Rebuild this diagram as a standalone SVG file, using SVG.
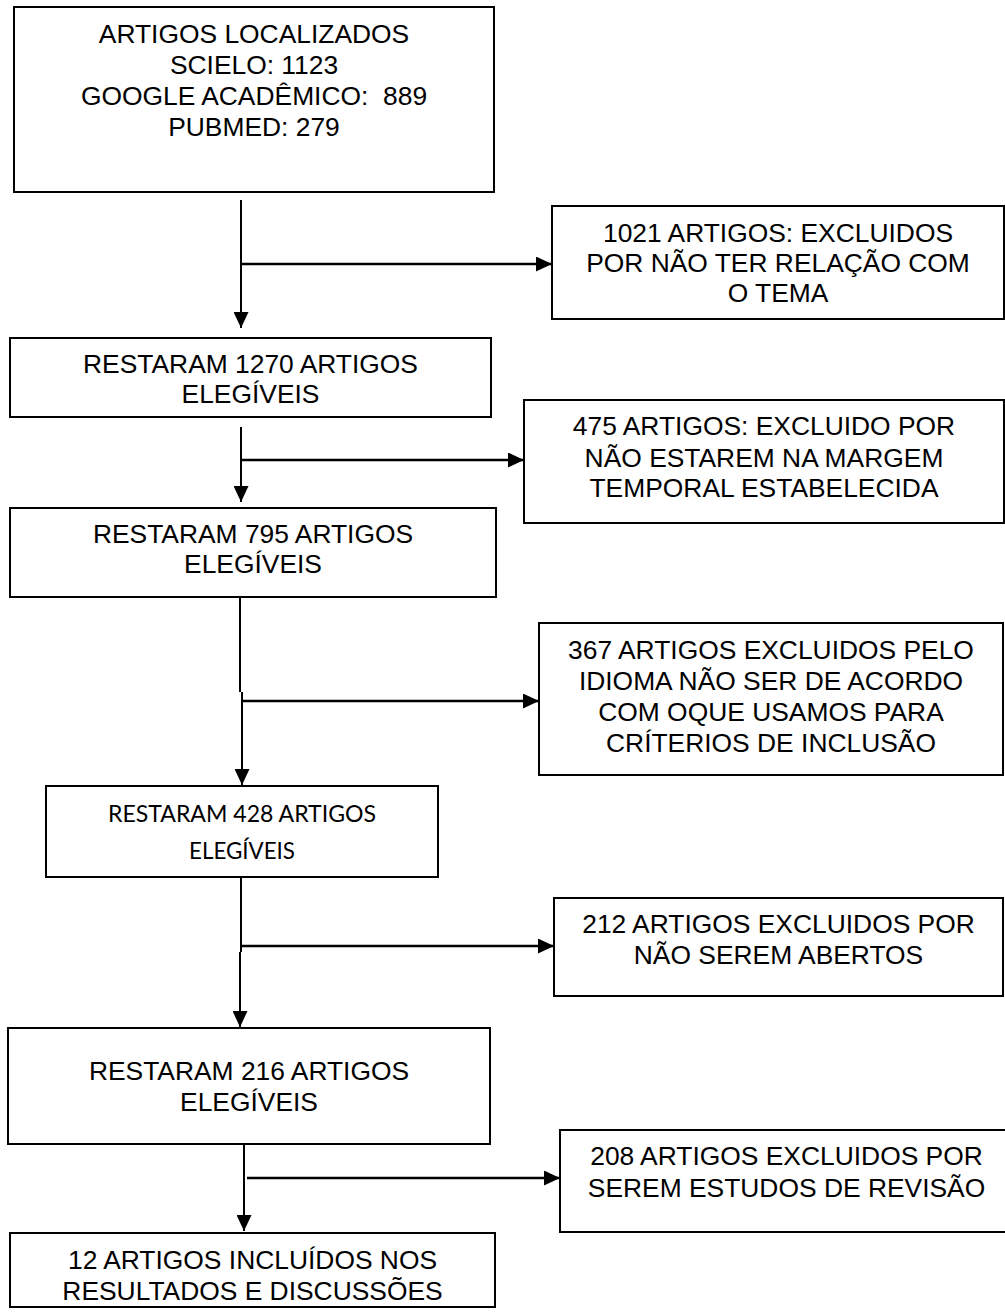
<svg xmlns="http://www.w3.org/2000/svg" width="1005" height="1316" viewBox="0 0 1005 1316">
<style>
.box{fill:#fff;stroke:#000;stroke-width:2}
.t{font-family:"Liberation Sans",Arial,sans-serif;font-size:26.4px;fill:#000;text-anchor:middle}
.c{font-family:Lato,"Open Sans",sans-serif;font-size:24px;fill:#000;text-anchor:middle}
.ln{fill:none;stroke:#000;stroke-width:2}
.hz{fill:none;stroke:#000;stroke-width:2.5}
</style>
<defs>
<marker id="ah" markerUnits="userSpaceOnUse" markerWidth="16" markerHeight="15" refX="16" refY="7.5" orient="auto">
<path d="M0,0 L16,7.5 L0,15 Z" fill="#000"/>
</marker>
</defs>
<rect width="1005" height="1316" fill="#fff"/>
<g id="connectors">
<path class="ln" d="M241,200 V328" marker-end="url(#ah)"/>
<path class="hz" d="M241,264 H552" marker-end="url(#ah)"/>
<path class="ln" d="M241,427 V502" marker-end="url(#ah)"/>
<path class="hz" d="M241,460 H524" marker-end="url(#ah)"/>
<path class="ln" d="M240,598 V692 M242,692 V785" marker-end="url(#ah)"/>
<path class="hz" d="M242,701 H539" marker-end="url(#ah)"/>
<path class="ln" d="M241,877 V952 M240,952 V1027" marker-end="url(#ah)"/>
<path class="hz" d="M242,946 H554" marker-end="url(#ah)"/>
<path class="ln" d="M244,1145 V1231" marker-end="url(#ah)"/>
<path class="hz" d="M247,1178 H560" marker-end="url(#ah)"/>
</g>
<g id="n1">
<rect class="box" x="14" y="7" width="480" height="185"/>
<text class="t" x="254" y="43">ARTIGOS LOCALIZADOS</text>
<text class="t" x="254" y="74">SCIELO: 1123</text>
<text class="t" x="254" y="105" style="white-space:pre">GOOGLE ACADÊMICO:  889</text>
<text class="t" x="254" y="136">PUBMED: 279</text>
</g>
<g id="n2">
<rect class="box" x="552" y="206" width="452" height="113"/>
<text class="t" x="778" y="242">1021 ARTIGOS: EXCLUIDOS</text>
<text class="t" x="778" y="272">POR NÃO TER RELAÇÃO COM</text>
<text class="t" x="778" y="302">O TEMA</text>
</g>
<g id="n3">
<rect class="box" x="10" y="338" width="481" height="79"/>
<text class="t" x="250.5" y="373">RESTARAM 1270 ARTIGOS</text>
<text class="t" x="250.5" y="403">ELEGÍVEIS</text>
</g>
<g id="n4">
<rect class="box" x="524" y="400" width="480" height="123"/>
<text class="t" x="764" y="435">475 ARTIGOS: EXCLUIDO POR</text>
<text class="t" x="764" y="467">NÃO ESTAREM NA MARGEM</text>
<text class="t" x="764" y="497">TEMPORAL ESTABELECIDA</text>
</g>
<g id="n5">
<rect class="box" x="10" y="508" width="486" height="89"/>
<text class="t" x="253" y="543">RESTARAM 795 ARTIGOS</text>
<text class="t" x="253" y="573">ELEGÍVEIS</text>
</g>
<g id="n6">
<rect class="box" x="539" y="623" width="464" height="152"/>
<text class="t" x="771" y="659">367 ARTIGOS EXCLUIDOS PELO</text>
<text class="t" x="771" y="690">IDIOMA NÃO SER DE ACORDO</text>
<text class="t" x="771" y="721">COM OQUE USAMOS PARA</text>
<text class="t" x="771" y="752">CRÍTERIOS DE INCLUSÃO</text>
</g>
<g id="n7">
<rect class="box" x="46" y="786" width="392" height="91"/>
<text class="c" x="242" y="822" textLength="268" lengthAdjust="spacingAndGlyphs">RESTARAM 428 ARTIGOS</text>
<text class="c" x="242" y="859" textLength="106" lengthAdjust="spacingAndGlyphs">ELEGÍVEIS</text>
</g>
<g id="n8">
<rect class="box" x="554" y="898" width="449" height="98"/>
<text class="t" x="778.5" y="933">212 ARTIGOS EXCLUIDOS POR</text>
<text class="t" x="778.5" y="964">NÃO SEREM ABERTOS</text>
</g>
<g id="n9">
<rect class="box" x="8" y="1028" width="482" height="116"/>
<text class="t" x="249" y="1080">RESTARAM 216 ARTIGOS</text>
<text class="t" x="249" y="1111">ELEGÍVEIS</text>
</g>
<g id="n10">
<rect class="box" x="560" y="1130" width="453" height="102"/>
<text class="t" x="786.5" y="1165">208 ARTIGOS EXCLUIDOS POR</text>
<text class="t" x="786.5" y="1197">SEREM ESTUDOS DE REVISÃO</text>
</g>
<g id="n11">
<rect class="box" x="10" y="1233" width="485" height="74"/>
<text class="t" x="252.5" y="1269">12 ARTIGOS INCLUÍDOS NOS</text>
<text class="t" x="252.5" y="1300">RESULTADOS E DISCUSSÕES</text>
</g>
</svg>
